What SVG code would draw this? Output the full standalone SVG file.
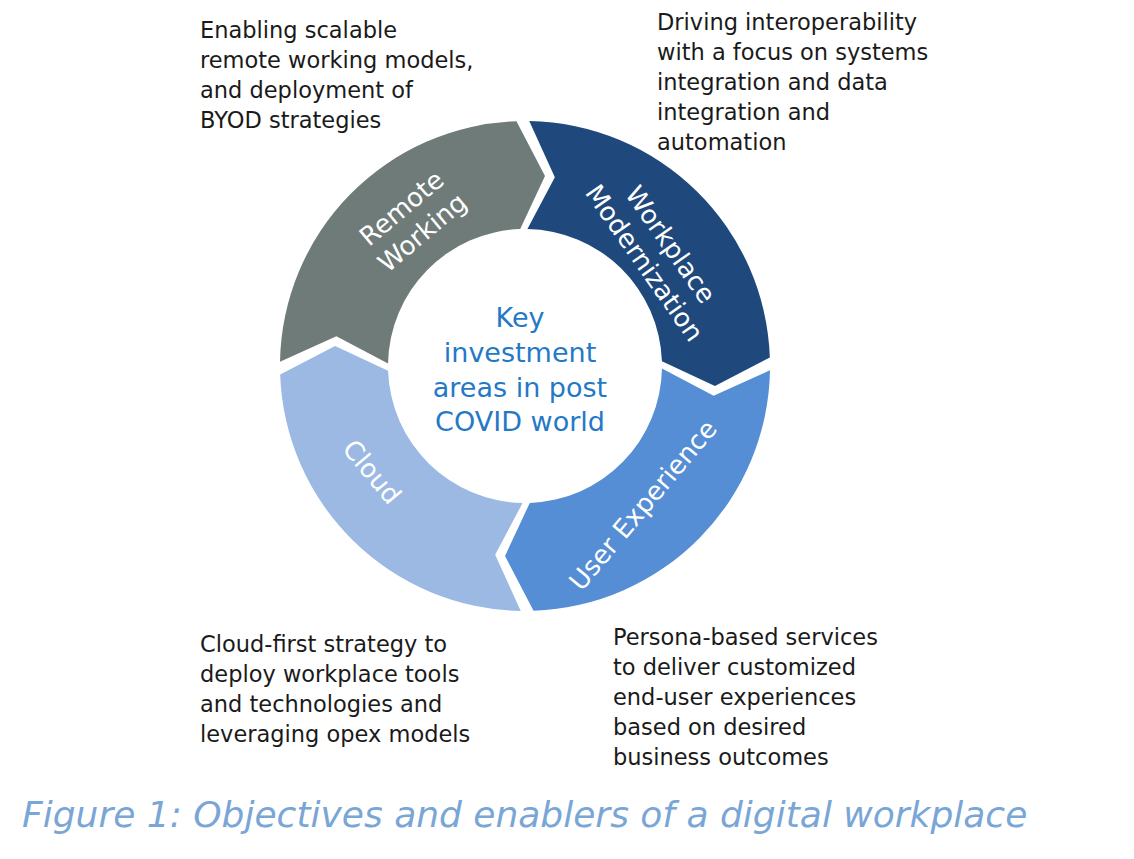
<svg xmlns="http://www.w3.org/2000/svg" width="1134" height="859" viewBox="0 0 1134 859">
<style>
.d{font-family:"DejaVu Sans","Liberation Sans",sans-serif;font-size:22.5px;fill:#1a1a1a}
.s{font-family:"DejaVu Sans","Liberation Sans",sans-serif;font-size:26px;fill:#fff;text-anchor:middle}
.c{font-family:"DejaVu Sans","Liberation Sans",sans-serif;font-size:27px;fill:#2479c6;text-anchor:middle}
.cap{font-family:"DejaVu Sans","Liberation Sans",sans-serif;font-size:36px;font-style:italic;fill:#7aa6d6}
</style>
<defs>
<path id="seg" d="M244.7,12.8 A245,245 0 0 1 0,245 L-26.6,189.1 L0,137 A137,137 0 0 0 136.8,7.2 L187.5,36.4 Z"/>
</defs>
<rect width="1134" height="859" fill="#fff"/>
<g id="remote"><use href="#seg" transform="translate(525,366) rotate(-182)" fill="#6f7b78"/>
<text class="s" transform="translate(410,218) rotate(-40)"><tspan x="0" y="-4">Remote</tspan><tspan x="0" y="28">Working</tspan></text></g>
<g id="workplace"><use href="#seg" transform="translate(525,366) rotate(-92)" fill="#1f497d"/>
<text class="s" transform="translate(660,252) rotate(55)"><tspan x="0" y="-4">Workplace</tspan><tspan x="0" y="28">Modernization</tspan></text></g>
<g id="ux"><use href="#seg" transform="translate(525,366) rotate(-2)" fill="#558ed5"/>
<text class="s" transform="translate(643,505) rotate(-50)"><tspan x="0" y="9">User Experience</tspan></text></g>
<g id="cloud"><use href="#seg" transform="translate(525,366) rotate(88)" fill="#9bb9e3"/>
<text class="s" transform="translate(372,472) rotate(50)"><tspan x="0" y="9">Cloud</tspan></text></g>
<g id="center"><text class="c"><tspan x="520" y="327">Key</tspan><tspan x="520" y="362">investment</tspan><tspan x="520" y="397">areas in post</tspan><tspan x="520" y="431">COVID world</tspan></text></g>
<g id="t1"><text class="d"><tspan x="200" y="38">Enabling scalable</tspan><tspan x="200" y="68">remote working models,</tspan><tspan x="200" y="98">and deployment of</tspan><tspan x="200" y="128">BYOD strategies</tspan></text></g>
<g id="t2"><text class="d"><tspan x="657" y="30">Driving interoperability</tspan><tspan x="657" y="60">with a focus on systems</tspan><tspan x="657" y="90">integration and data</tspan><tspan x="657" y="120">integration and</tspan><tspan x="657" y="150">automation</tspan></text></g>
<g id="t3"><text class="d"><tspan x="200" y="652">Cloud-first strategy to</tspan><tspan x="200" y="682">deploy workplace tools</tspan><tspan x="200" y="712">and technologies and</tspan><tspan x="200" y="742">leveraging opex models</tspan></text></g>
<g id="t4"><text class="d"><tspan x="613" y="645">Persona-based services</tspan><tspan x="613" y="675">to deliver customized</tspan><tspan x="613" y="705">end-user experiences</tspan><tspan x="613" y="735">based on desired</tspan><tspan x="613" y="765">business outcomes</tspan></text></g>
<text class="cap" x="22" y="827">Figure 1: Objectives and enablers of a digital workplace</text>
<g id="connectors"/>
</svg>
